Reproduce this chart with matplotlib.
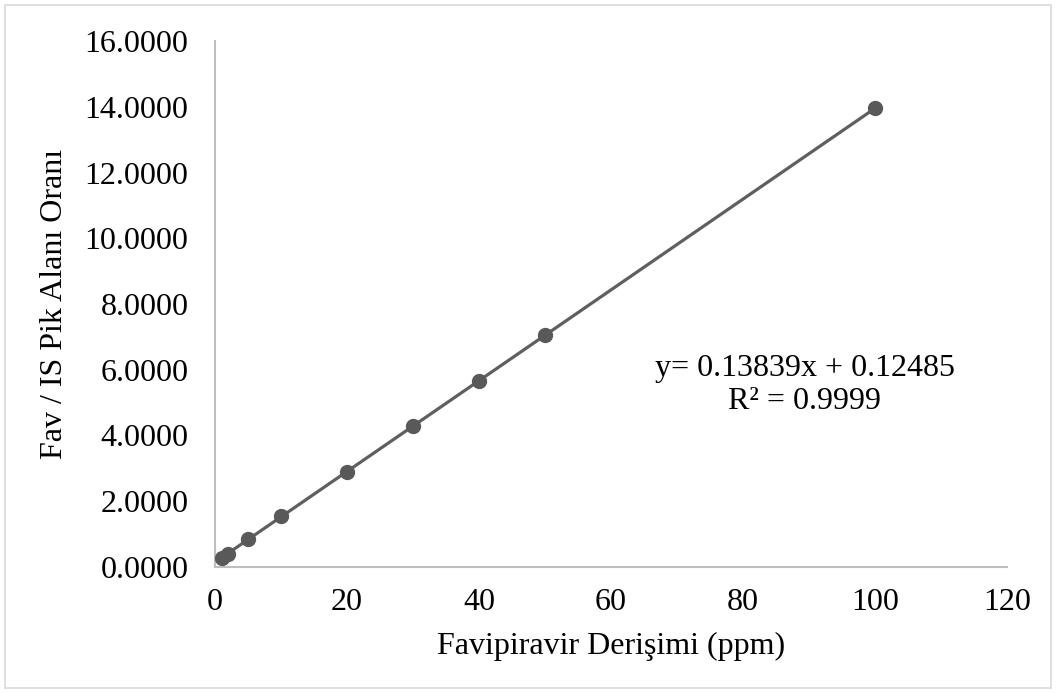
import numpy as np
import matplotlib
matplotlib.use("Agg")
import matplotlib.pyplot as plt
from matplotlib.patches import Rectangle

plt.rcParams['font.family'] = ['Liberation Serif', 'DejaVu Serif']

# concentrations (ppm) and Fav / IS peak area ratio
conc = [1, 2, 5, 10, 20, 30, 40, 50, 100]
ratio = [0.27, 0.41, 0.84, 1.55, 2.90, 4.28, 5.66, 7.06, 13.95]
x_ticks = [0, 20, 40, 60, 80, 100, 120]
y_ticks = [0, 2, 4, 6, 8, 10, 12, 14, 16]
eq_text = "y= 0.13839x + 0.12485\nR² = 0.9999"

fig = plt.figure(figsize=(10.56, 6.93), dpi=100)
ax = fig.add_axes([215 / 1056, 1 - 567 / 693, (1007 - 215) / 1056, (567 - 41) / 693])

# outer chart border
fig.patches.append(Rectangle((5 / 1056, 5 / 693), 1 - 10 / 1056, 1 - 10 / 693,
                             transform=fig.transFigure, fill=False,
                             edgecolor='#d9d9d9', linewidth=1.2))

slope, icpt = np.polyfit(conc, ratio, 1)
xs = np.array([min(conc), max(conc)])
ax.plot(xs, slope * xs + icpt, color='#5f5f5f', linewidth=2.3, zorder=2)
ax.plot(conc, ratio, 'o', color='#595959', markersize=10, zorder=3)

ax.set_xlim(0, 120)
ax.set_ylim(0, 16)
ax.set_xticks(x_ticks)
ax.set_yticks(y_ticks)
ax.set_yticklabels([f"{v:.4f}" for v in y_ticks])
ax.tick_params(length=0, labelsize=23)
ax.tick_params(axis='y', pad=19)
ax.tick_params(axis='x', pad=15)

for s in ['top', 'right']:
    ax.spines[s].set_visible(False)
for s in ['left', 'bottom']:
    ax.spines[s].set_color('#bfbfbf')
    ax.spines[s].set_linewidth(1.5)

ax.set_xlabel("Favipiravir Derişimi (ppm)", fontsize=23, labelpad=11)
ax.set_ylabel("Fav / IS Pik Alanı Oranı", fontsize=23, labelpad=11)

fig.text(805 / 1056, 1 - 385 / 693, eq_text, fontsize=23, ha='center', va='center',
         linespacing=1.17)

fig.savefig("out.png", dpi=100)
